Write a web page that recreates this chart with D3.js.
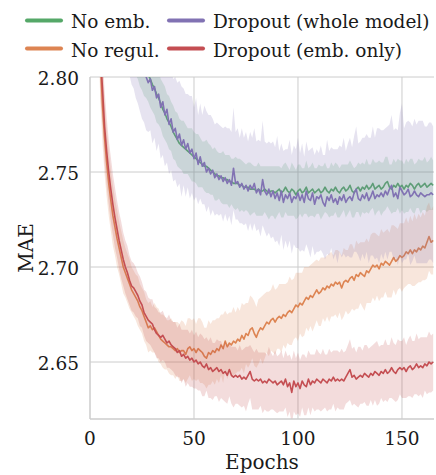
<!DOCTYPE html>
<html><head><meta charset="utf-8">
<script src="https://cdn.jsdelivr.net/npm/d3@7"></script>
<style>
html,body{margin:0;padding:0;background:#fff;}
svg{display:block;}
</style></head>
<body>
<svg id="chart" width="436" height="475" font-family="'DejaVu Serif', 'Liberation Serif', serif"></svg>
<script>
// ---- data (epochs 1..165) ----
const seriesNames = ["No emb.", "No regul.", "Dropout (whole model)", "Dropout (emb. only)"];
const seriesColors = ["#55A868", "#DD8452", "#8172B3", "#C44E52"];
const xTicks = [0, 50, 100, 150];
const yTicks = [2.65, 2.70, 2.75, 2.80];

const noEmbMean = [3.150,3.080,3.020,2.978,2.950,2.930,2.913,2.900,2.889,2.879,
2.870,2.862,2.855,2.849,2.843,2.838,2.834,2.830,2.826,2.822,
2.819,2.816,2.813,2.810,2.807,2.805,2.803,2.801,2.799,2.796,
2.794,2.791,2.789,2.786,2.783,2.781,2.778,2.776,2.774,2.771,
2.769,2.767,2.765,2.764,2.763,2.762,2.761,2.760,2.759,2.758,
2.757,2.756,2.755,2.754,2.753,2.753,2.752,2.751,2.750,2.749,
2.748,2.748,2.747,2.747,2.746,2.746,2.745,2.745,2.744,2.744,
2.744,2.743,2.743,2.742,2.742,2.742,2.741,2.741,2.741,2.740,
2.741,2.740,2.740,2.741,2.740,2.739,2.740,2.740,2.739,2.740,
2.741,2.739,2.740,2.742,2.740,2.739,2.741,2.740,2.738,2.740,
2.741,2.739,2.740,2.742,2.739,2.740,2.741,2.739,2.740,2.741,
2.739,2.740,2.742,2.740,2.739,2.741,2.740,2.742,2.740,2.739,
2.741,2.742,2.740,2.741,2.743,2.740,2.739,2.741,2.742,2.740,
2.742,2.741,2.743,2.741,2.742,2.744,2.741,2.742,2.743,2.741,
2.742,2.744,2.745,2.742,2.741,2.743,2.742,2.744,2.742,2.743,
2.741,2.743,2.742,2.744,2.743,2.741,2.743,2.744,2.742,2.743,
2.744,2.742,2.743,2.744,2.743];
const noEmbSd = [0.030,0.026,0.023,0.021,0.020,0.019,0.019,0.018,0.018,0.018,
0.017,0.017,0.017,0.016,0.016,0.016,0.016,0.015,0.015,0.015,
0.015,0.015,0.014,0.015,0.014,0.015,0.014,0.014,0.015,0.014,
0.014,0.015,0.014,0.013,0.014,0.014,0.013,0.014,0.013,0.014,
0.013,0.014,0.013,0.013,0.014,0.013,0.012,0.013,0.014,0.013,
0.013,0.014,0.013,0.012,0.013,0.014,0.013,0.013,0.012,0.014,
0.013,0.012,0.013,0.014,0.013,0.013,0.014,0.012,0.013,0.014,
0.013,0.014,0.013,0.013,0.012,0.013,0.014,0.013,0.012,0.013,
0.014,0.013,0.013,0.012,0.013,0.014,0.013,0.013,0.014,0.013,
0.012,0.013,0.014,0.013,0.013,0.012,0.014,0.013,0.013,0.014,
0.013,0.013,0.012,0.014,0.013,0.013,0.014,0.013,0.012,0.013,
0.014,0.013,0.013,0.012,0.013,0.014,0.013,0.013,0.014,0.013,
0.013,0.012,0.014,0.013,0.013,0.014,0.013,0.012,0.013,0.014,
0.013,0.013,0.014,0.013,0.012,0.013,0.014,0.013,0.013,0.014,
0.013,0.014,0.013,0.012,0.013,0.014,0.013,0.013,0.014,0.013,
0.013,0.014,0.013,0.013,0.014,0.013,0.012,0.013,0.014,0.013,
0.014,0.013,0.013,0.014,0.013];

const noRegMean = [3.150,2.990,2.900,2.845,2.808,2.785,2.768,2.755,2.744,2.735,
2.727,2.721,2.715,2.710,2.705,2.700,2.697,2.694,2.691,2.688,
2.686,2.684,2.682,2.679,2.677,2.674,2.671,2.668,2.669,2.667,
2.668,2.666,2.664,2.662,2.661,2.660,2.659,2.658,2.658,2.657,
2.656,2.657,2.655,2.656,2.656,2.654,2.657,2.658,2.656,2.657,
2.655,2.657,2.656,2.655,2.653,2.652,2.655,2.654,2.656,2.655,
2.657,2.656,2.659,2.657,2.661,2.658,2.660,2.659,2.661,2.660,
2.662,2.661,2.664,2.662,2.665,2.664,2.667,2.668,2.665,2.663,
2.666,2.668,2.667,2.669,2.671,2.670,2.672,2.673,2.671,2.673,
2.674,2.673,2.675,2.674,2.676,2.677,2.676,2.678,2.680,2.679,
2.681,2.680,2.682,2.684,2.683,2.685,2.684,2.686,2.688,2.686,
2.687,2.689,2.688,2.690,2.689,2.691,2.690,2.692,2.691,2.692,
2.689,2.692,2.693,2.692,2.694,2.695,2.693,2.696,2.695,2.697,
2.696,2.695,2.698,2.697,2.699,2.701,2.700,2.701,2.699,2.702,
2.701,2.703,2.702,2.701,2.703,2.705,2.703,2.704,2.706,2.705,
2.706,2.708,2.707,2.709,2.707,2.709,2.708,2.710,2.709,2.711,
2.710,2.713,2.716,2.713,2.714];
const noRegSd = [0.040,0.032,0.027,0.024,0.022,0.020,0.019,0.018,0.017,0.016,
0.016,0.015,0.015,0.014,0.014,0.014,0.013,0.013,0.013,0.012,
0.012,0.012,0.013,0.012,0.012,0.013,0.012,0.013,0.013,0.012,
0.013,0.013,0.014,0.013,0.014,0.014,0.013,0.014,0.015,0.014,
0.015,0.014,0.015,0.016,0.015,0.015,0.016,0.015,0.016,0.016,
0.015,0.016,0.017,0.016,0.015,0.016,0.017,0.016,0.016,0.017,
0.016,0.017,0.016,0.018,0.016,0.017,0.016,0.017,0.018,0.016,
0.017,0.016,0.017,0.018,0.016,0.017,0.018,0.016,0.017,0.016,
0.017,0.016,0.018,0.017,0.016,0.017,0.016,0.018,0.017,0.016,
0.017,0.018,0.016,0.017,0.016,0.018,0.017,0.016,0.017,0.018,
0.016,0.017,0.018,0.016,0.017,0.016,0.018,0.017,0.016,0.017,
0.018,0.016,0.017,0.016,0.018,0.017,0.016,0.017,0.018,0.016,
0.017,0.018,0.016,0.017,0.018,0.017,0.016,0.018,0.017,0.016,
0.017,0.018,0.017,0.016,0.018,0.017,0.018,0.016,0.017,0.018,
0.017,0.016,0.018,0.017,0.019,0.017,0.018,0.016,0.017,0.018,
0.017,0.018,0.016,0.018,0.017,0.019,0.017,0.018,0.017,0.018,
0.017,0.019,0.018,0.017,0.018];

const dropAllMean = [3.200,3.110,3.040,2.990,2.955,2.930,2.912,2.898,2.887,2.877,
2.869,2.862,2.856,2.850,2.845,2.840,2.835,2.831,2.827,2.823,
2.820,2.816,2.812,2.809,2.806,2.803,2.800,2.797,2.799,2.793,
2.795,2.789,2.791,2.784,2.787,2.780,2.783,2.775,2.778,2.771,
2.773,2.767,2.770,2.764,2.767,2.762,2.765,2.760,2.762,2.757,
2.760,2.754,2.758,2.753,2.755,2.750,2.752,2.749,2.751,2.747,
2.749,2.746,2.748,2.745,2.747,2.744,2.746,2.743,2.752,2.744,
2.745,2.742,2.744,2.741,2.743,2.740,2.743,2.741,2.744,2.739,
2.741,2.738,2.746,2.740,2.738,2.741,2.737,2.740,2.736,2.739,
2.735,2.740,2.734,2.738,2.736,2.739,2.734,2.737,2.736,2.739,
2.735,2.738,2.734,2.740,2.736,2.735,2.739,2.733,2.737,2.736,
2.738,2.734,2.732,2.737,2.735,2.738,2.734,2.736,2.733,2.737,
2.735,2.738,2.734,2.736,2.737,2.735,2.739,2.741,2.736,2.735,
2.738,2.736,2.739,2.735,2.737,2.740,2.736,2.738,2.737,2.739,
2.737,2.740,2.738,2.741,2.743,2.737,2.739,2.736,2.742,2.740,
2.738,2.739,2.741,2.737,2.738,2.740,2.738,2.737,2.739,2.738,
2.737,2.738,2.738,2.739,2.738];
const dropAllSdUp = [0.040,0.036,0.033,0.031,0.030,0.029,0.029,0.028,0.028,0.027,
0.027,0.027,0.026,0.027,0.026,0.026,0.027,0.026,0.026,0.027,
0.026,0.027,0.025,0.026,0.028,0.026,0.027,0.025,0.027,0.026,
0.029,0.026,0.025,0.027,0.026,0.028,0.025,0.027,0.026,0.028,
0.027,0.030,0.028,0.031,0.027,0.029,0.026,0.030,0.028,0.027,
0.029,0.026,0.028,0.027,0.030,0.032,0.028,0.031,0.027,0.028,
0.027,0.029,0.026,0.028,0.027,0.029,0.027,0.028,0.032,0.027,
0.028,0.026,0.029,0.027,0.028,0.026,0.028,0.027,0.029,0.027,
0.026,0.028,0.031,0.026,0.027,0.025,0.028,0.026,0.027,0.030,
0.026,0.025,0.027,0.024,0.026,0.028,0.025,0.027,0.026,0.029,
0.025,0.027,0.024,0.026,0.025,0.027,0.024,0.026,0.025,0.024,
0.026,0.025,0.027,0.030,0.026,0.025,0.028,0.026,0.029,0.027,
0.028,0.030,0.027,0.029,0.031,0.028,0.030,0.033,0.029,0.031,
0.030,0.032,0.031,0.033,0.031,0.034,0.032,0.035,0.036,0.033,
0.035,0.033,0.036,0.034,0.037,0.035,0.034,0.036,0.039,0.046,
0.035,0.037,0.036,0.039,0.036,0.038,0.037,0.040,0.038,0.039,
0.037,0.036,0.038,0.037,0.036];
const dropAllSdLow = [0.040,0.036,0.033,0.031,0.030,0.029,0.029,0.028,0.028,0.027,
0.027,0.027,0.026,0.027,0.026,0.026,0.027,0.026,0.026,0.027,
0.026,0.027,0.026,0.027,0.028,0.027,0.028,0.026,0.027,0.028,
0.027,0.028,0.026,0.027,0.028,0.027,0.028,0.026,0.027,0.026,
0.027,0.025,0.026,0.027,0.024,0.025,0.023,0.024,0.023,0.022,
0.023,0.021,0.022,0.020,0.022,0.021,0.020,0.022,0.021,0.020,
0.021,0.019,0.020,0.021,0.019,0.020,0.019,0.021,0.022,0.019,
0.020,0.019,0.021,0.019,0.020,0.021,0.020,0.022,0.021,0.020,
0.021,0.022,0.024,0.021,0.022,0.023,0.022,0.024,0.023,0.025,
0.024,0.023,0.025,0.024,0.026,0.025,0.027,0.025,0.026,0.029,
0.027,0.029,0.026,0.028,0.027,0.030,0.028,0.027,0.029,0.028,
0.029,0.027,0.028,0.030,0.029,0.028,0.030,0.029,0.031,0.029,
0.030,0.031,0.029,0.030,0.032,0.030,0.031,0.033,0.030,0.032,
0.031,0.032,0.031,0.033,0.031,0.034,0.032,0.033,0.035,0.032,
0.033,0.032,0.034,0.033,0.035,0.033,0.034,0.035,0.036,0.038,
0.034,0.035,0.034,0.036,0.035,0.034,0.036,0.035,0.037,0.036,
0.035,0.036,0.034,0.035,0.036];

const dropEmbMean = [3.200,3.020,2.920,2.860,2.812,2.794,2.774,2.761,2.750,2.741,
2.733,2.726,2.720,2.714,2.709,2.704,2.700,2.697,2.693,2.690,
2.689,2.687,2.685,2.682,2.680,2.676,2.674,2.672,2.671,2.670,
2.667,2.665,2.664,2.663,2.664,2.662,2.660,2.661,2.659,2.658,
2.657,2.655,2.656,2.653,2.654,2.652,2.653,2.651,2.652,2.650,
2.651,2.649,2.650,2.648,2.647,2.649,2.646,2.647,2.645,2.646,
2.647,2.645,2.646,2.644,2.645,2.643,2.646,2.643,2.642,2.643,
2.642,2.643,2.641,2.642,2.641,2.643,2.645,2.641,2.640,2.641,
2.640,2.641,2.639,2.640,2.639,2.641,2.640,2.639,2.640,2.638,
2.639,2.640,2.638,2.641,2.637,2.639,2.634,2.640,2.637,2.639,
2.636,2.640,2.638,2.637,2.641,2.638,2.640,2.639,2.641,2.640,
2.639,2.641,2.640,2.639,2.641,2.640,2.642,2.640,2.641,2.640,
2.641,2.640,2.642,2.644,2.646,2.642,2.643,2.641,2.642,2.643,
2.642,2.644,2.643,2.642,2.644,2.643,2.645,2.644,2.643,2.645,
2.644,2.646,2.644,2.645,2.647,2.645,2.644,2.646,2.647,2.646,
2.647,2.645,2.647,2.648,2.646,2.647,2.649,2.647,2.648,2.647,
2.649,2.648,2.650,2.649,2.650];
const dropEmbSd = [0.040,0.032,0.027,0.024,0.022,0.020,0.019,0.018,0.017,0.017,
0.016,0.016,0.015,0.015,0.015,0.014,0.014,0.014,0.013,0.013,
0.013,0.013,0.012,0.013,0.012,0.012,0.013,0.012,0.012,0.013,
0.012,0.013,0.012,0.013,0.013,0.012,0.013,0.014,0.013,0.013,
0.014,0.013,0.014,0.014,0.013,0.015,0.014,0.014,0.015,0.014,
0.015,0.014,0.015,0.016,0.015,0.014,0.015,0.016,0.015,0.014,
0.015,0.016,0.015,0.014,0.016,0.015,0.014,0.015,0.016,0.015,
0.014,0.016,0.015,0.015,0.017,0.015,0.014,0.016,0.015,0.016,
0.015,0.014,0.016,0.015,0.015,0.017,0.015,0.014,0.016,0.015,
0.015,0.016,0.014,0.015,0.016,0.015,0.017,0.016,0.015,0.016,
0.015,0.014,0.016,0.015,0.015,0.016,0.014,0.015,0.016,0.015,
0.015,0.016,0.014,0.015,0.016,0.015,0.014,0.016,0.015,0.015,
0.016,0.015,0.014,0.015,0.016,0.015,0.015,0.014,0.016,0.015,
0.014,0.015,0.016,0.015,0.014,0.016,0.015,0.017,0.015,0.014,
0.015,0.016,0.015,0.014,0.016,0.015,0.015,0.016,0.014,0.015,
0.016,0.014,0.015,0.016,0.015,0.014,0.016,0.015,0.015,0.016,
0.014,0.015,0.016,0.015,0.015];

// ---- layout ----
const svg = d3.select("#chart");
const L = 90, R = 434, T = 77, B = 419;
const x = d3.scaleLinear().domain([0, 165.4]).range([L, R]);
const y = d3.scaleLinear().domain([2.62, 2.80]).range([B, T]);
const epochs = noEmbMean.map((_, i) => i + 1);
const txt = "#1a1a1a";

svg.append("defs").append("clipPath").attr("id", "clip")
  .append("rect").attr("x", L).attr("y", T).attr("width", R - L).attr("height", B - T);

// grid
const grid = svg.append("g");
grid.selectAll(".gy").data(yTicks).join("line")
  .attr("x1", L).attr("x2", R).attr("y1", d => y(d)).attr("y2", d => y(d))
  .attr("stroke", "#cccccc").attr("stroke-width", 1);
grid.selectAll(".gx").data(xTicks.filter(d => d > 0)).join("line")
  .attr("x1", d => x(d)).attr("x2", d => x(d)).attr("y1", T).attr("y2", B)
  .attr("stroke", "#cccccc").attr("stroke-width", 1);

// series
const series = [
  {name: seriesNames[0], color: seriesColors[0], mean: noEmbMean, up: noEmbSd, lo: noEmbSd},
  {name: seriesNames[1], color: seriesColors[1], mean: noRegMean, up: noRegSd, lo: noRegSd},
  {name: seriesNames[2], color: seriesColors[2], mean: dropAllMean, up: dropAllSdUp, lo: dropAllSdLow},
  {name: seriesNames[3], color: seriesColors[3], mean: dropEmbMean, up: dropEmbSd, lo: dropEmbSd}
];
const plot = svg.append("g").attr("clip-path", "url(#clip)");
series.forEach(s => {
  const pts = epochs.map((e, i) => ({e, m: s.mean[i], hi: s.mean[i] + s.up[i], lo: s.mean[i] - s.lo[i]}));
  plot.append("path").datum(pts)
    .attr("d", d3.area().x(d => x(d.e)).y0(d => y(d.lo)).y1(d => y(d.hi)))
    .attr("fill", s.color).attr("fill-opacity", 0.2).attr("stroke", "none");
  plot.append("path").datum(pts)
    .attr("d", d3.line().x(d => x(d.e)).y(d => y(d.m)))
    .attr("fill", "none").attr("stroke", s.color).attr("stroke-width", 1.6)
    .attr("stroke-linejoin", "round");
});

// spines
svg.append("line").attr("x1", L).attr("x2", L).attr("y1", T).attr("y2", B)
  .attr("stroke", "#cccccc").attr("stroke-width", 1.5);
svg.append("line").attr("x1", L).attr("x2", R).attr("y1", B).attr("y2", B)
  .attr("stroke", "#cccccc").attr("stroke-width", 1.5);

// tick labels
svg.append("g").selectAll("text").data(yTicks).join("text")
  .attr("x", 79).attr("y", d => y(d) + 8).attr("fill", txt)
  .attr("text-anchor", "end").attr("font-size", 18.5)
  .text(d => d3.format(".2f")(d));
svg.append("g").selectAll("text").data(xTicks).join("text")
  .attr("x", d => x(d)).attr("y", 445).attr("fill", txt)
  .attr("text-anchor", "middle").attr("font-size", 18.5)
  .text(d => d3.format("d")(d));

// axis labels
svg.append("text").attr("x", (L + R) / 2).attr("y", 469).attr("fill", txt)
  .attr("text-anchor", "middle").attr("font-size", 20)
  .text("Epochs");
svg.append("text").attr("transform", `translate(33,${(T + B) / 2}) rotate(-90)`).attr("fill", txt)
  .attr("text-anchor", "middle").attr("font-size", 20)
  .text("MAE");

// legend (2 columns, column-major like matplotlib)
const legPos = [[27, 20.5, 71, 28], [27, 48.5, 71, 57], [169, 20.5, 213, 28], [169, 48.5, 213, 57]];
const leg = svg.append("g");
series.forEach((s, i) => {
  const p = legPos[i];
  leg.append("line").attr("x1", p[0]).attr("x2", p[0] + 34).attr("y1", p[1]).attr("y2", p[1])
    .attr("stroke", s.color).attr("stroke-width", 4).attr("stroke-linecap", "round");
  leg.append("text").attr("x", p[2]).attr("y", p[3]).attr("fill", txt).attr("font-size", 18.5).text(s.name);
});
</script>
</body></html>
